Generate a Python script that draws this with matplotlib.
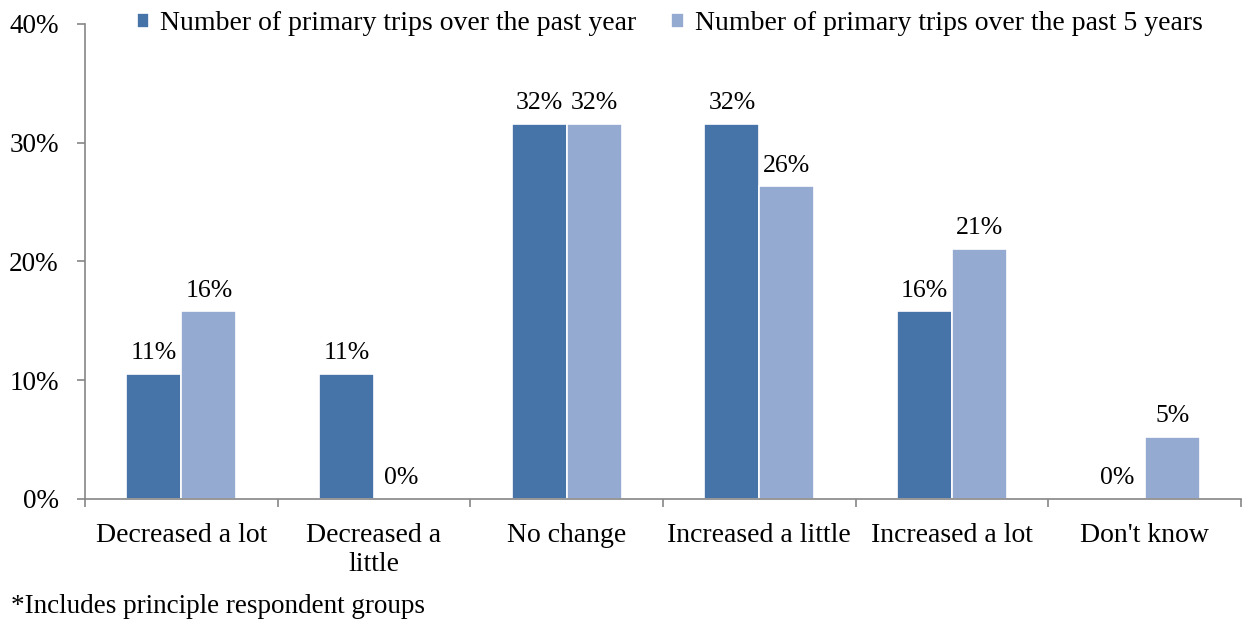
import matplotlib
matplotlib.use("Agg")
import matplotlib.pyplot as plt
import numpy as np

categories = ["Decreased a lot", "Decreased a\nlittle", "No change", "Increased a little", "Increased a lot", "Don't know"]
series_names = ["Number of primary trips over the past year", "Number of primary trips over the past 5 years"]
past_year = [10.53, 10.53, 31.58, 31.58, 15.79, 0.0]
past_5_years = [15.79, 0.0, 31.58, 26.32, 21.05, 5.26]
yticks = [0, 10, 20, 30, 40]

plt.rcParams['font.family'] = ['Liberation Serif', 'DejaVu Serif']

fig = plt.figure(figsize=(12.43, 6.2), dpi=100)
ax = fig.add_axes([0.0684, 0.1952, 0.93, 0.7661])

x = np.arange(len(categories))
w = 0.285
c1 = "#4674A8"
c2 = "#95AAD1"
b1 = ax.bar(x - w/2, past_year, w, color=c1, edgecolor="white", linewidth=1.2, label=series_names[0])
b2 = ax.bar(x + w/2, past_5_years, w, color=c2, edgecolor="white", linewidth=1.2, label=series_names[1])

for bars, vals in ((b1, past_year), (b2, past_5_years)):
    for b, v in zip(bars, vals):
        ax.annotate(f"{v:.0f}%", (b.get_x() + b.get_width()/2, v), xytext=(0, 7),
                    textcoords="offset points", ha="center", va="bottom", fontsize=18.5)

ax.set_xlim(-0.5, len(categories) - 0.5)
ax.set_ylim(0, 40)
ax.set_yticks(yticks)
ax.set_yticklabels([f"{t}%" for t in yticks], fontsize=19.5)
ax.set_xticks(x)
ax.set_xticklabels(categories, fontsize=20, linespacing=1.25)
ax.tick_params(axis='x', length=0, pad=17)
ax.set_xticks(np.arange(-0.5, len(categories)), minor=True)
ax.tick_params(axis='x', which='minor', length=6, color="#868686", width=1.2, direction='out')
ax.tick_params(axis='y', length=6, color="#868686", width=1.2, direction='out', pad=13)

for s in ["top", "right"]:
    ax.spines[s].set_visible(False)
for s in ["left", "bottom"]:
    ax.spines[s].set_color("#868686")
    ax.spines[s].set_linewidth(1.2)

leg = fig.legend(handles=[b1, b2], loc="upper left", bbox_to_anchor=(0.09, 1.022), ncol=2,
                 frameon=False, fontsize=20, handlelength=0.45, handleheight=0.45,
                 handletextpad=0.4, columnspacing=1.25)

fig.text(0.009, 0.011, "*Includes principle respondent groups", fontsize=19.5, ha="left", va="baseline")

fig.savefig("out.png", dpi=100)
